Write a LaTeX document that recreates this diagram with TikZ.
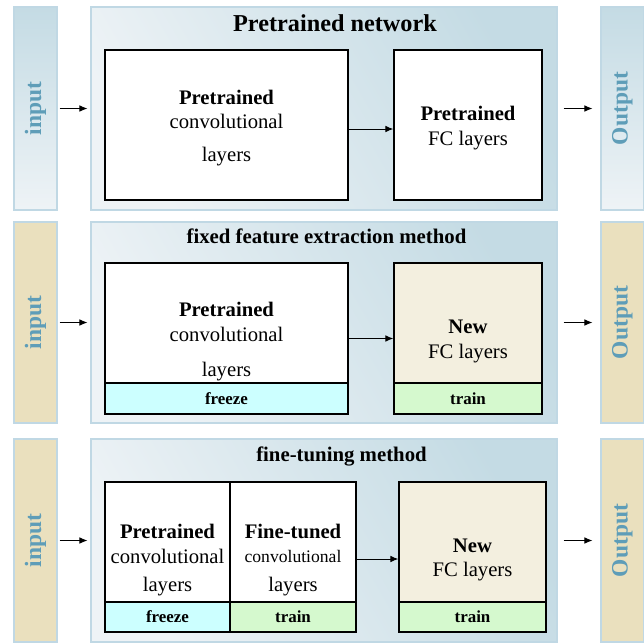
\documentclass[tikz,border=0pt]{standalone}
\usepackage{fontspec}
\setmainfont{Liberation Serif}
\usetikzlibrary{fit,arrows.meta}
\definecolor{edgeblue}{HTML}{C0D8E4}
\definecolor{paneldark}{HTML}{C4DBE4}
\definecolor{panellight}{HTML}{EEF3F6}
\definecolor{sandfill}{HTML}{EAE0BE}
\definecolor{newfill}{HTML}{F3EFDF}
\definecolor{freezefill}{HTML}{CCFFFF}
\definecolor{trainfill}{HTML}{D5F9CE}
\definecolor{sideblue}{HTML}{5E9DB8}
\newcommand{\bodyfont}{\fontsize{15.5}{18.6}\selectfont}
\newcommand{\stripfont}{\fontsize{12.7}{15}\selectfont\bfseries}
\begin{document}
\begin{tikzpicture}[x=0.75pt, y=-0.75pt,
    panel/.style={draw=edgeblue, line width=0.8pt, bottom color=panellight, top color=paneldark, shading angle=-60, inner sep=0pt},
    sidebox/.style={draw=edgeblue, line width=0.8pt, inner sep=0pt},
    bluebox/.style={sidebox, top color=paneldark, bottom color=panellight},
    sandbox/.style={sidebox, fill=sandfill},
    sidetext/.style={rotate=90, text=sideblue, font=\fontsize{17.6}{20}\selectfont\bfseries},
    layerbox/.style={draw, line width=1pt, inner sep=0pt},
    layertext/.style={align=center, font=\bodyfont, inner sep=0pt, yshift=-2.25pt},
    strip/.style={draw, line width=1pt, inner sep=0pt},
    striptext/.style={font=\stripfont, inner sep=0pt},
    title/.style={font=\fontsize{15.6}{18}\selectfont\bfseries},
    arr/.style={-{Latex[length=6pt,width=5pt]}, line width=0.75pt}]
    \useasboundingbox (0,0) rectangle (644,644);

    \node [bluebox, fit={(14,7) (57,210)}] (in1) {};
    \node [sidetext] (in1txt) at (in1) {input};
    \node [panel, fit={(91,7) (557,210)}] (net1) {};
    \node [bluebox, fit={(601,7) (643.5,210)}] (out1) {};
    \node [sidetext] (out1txt) at (out1) {Output};
    \node [title, font=\fontsize{18.2}{21}\selectfont\bfseries] (t1) at (335,23) {Pretrained network};
    \node [layerbox, fill=white, fit={(105,50) (348,200)}] (conv1) {};
    \node [layertext] (conv1txt) at (conv1) {\textbf{Pretrained}\\convolutional\\[6pt]layers};
    \node [layerbox, fill=white, fit={(394,50) (542,200)}] (fc1) {};
    \node [layertext] (fc1txt) at (fc1) {\textbf{Pretrained}\\FC layers};

    \node [sandbox, fit={(14,222) (57,423)}] (in2) {};
    \node [sidetext] (in2txt) at (in2) {input};
    \node [panel, fit={(91,222) (557,423)}] (net2) {};
    \node [sandbox, fit={(601,222) (643.5,423)}] (out2) {};
    \node [sidetext] (out2txt) at (out2) {Output};
    \node [title] (t2) at (326.5,236) {fixed feature extraction method};
    \node [layerbox, fill=white, fit={(105,263) (348,414)}] (conv2) {};
    \node [layertext] (conv2txt) at (conv2) {\textbf{Pretrained}\\convolutional\\[7.5pt]layers};
    \node [strip, fill=freezefill, fit={(105,383) (348,414)}] (fz2) {};
    \node [striptext] (fz2txt) at (fz2) {freeze};
    \node [layerbox, fill=newfill, fit={(394,263) (542,414)}] (fc2) {};
    \node [layertext] (fc2txt) at (fc2) {\textbf{New}\\FC layers};
    \node [strip, fill=trainfill, fit={(394,383) (542,414)}] (tr2) {};
    \node [striptext] (tr2txt) at (tr2) {train};

    \node [sandbox, fit={(14,439) (57,642)}] (in3) {};
    \node [sidetext] (in3txt) at (in3) {input};
    \node [panel, fit={(91,439) (557,642)}] (net3) {};
    \node [sandbox, fit={(601,439) (643.5,642)}] (out3) {};
    \node [sidetext] (out3txt) at (out3) {Output};
    \node [title] (t3) at (341.5,456) {fine-tuning method};
    \node [layerbox, fill=white, fit={(105,482) (230,632)}] (conv3) {};
    \node [layertext] (conv3txt) at (conv3) {\textbf{Pretrained}\\convolutional\\[2pt]layers};
    \node [layerbox, fill=white, fit={(230,482) (356,632)}] (tune3) {};
    \node [layertext] (tune3txt) at (tune3) {\textbf{Fine-tuned}\\{\fontsize{13.2}{16}\selectfont convolutional}\\[3pt]layers};
    \node [layerbox, fill=newfill, fit={(399,482) (546,632)}] (fc3) {};
    \node [layertext] (fc3txt) at (fc3) {\textbf{New}\\FC layers};
    \node [strip, fill=freezefill, fit={(105,602) (230,632)}] (fz3) {};
    \node [striptext] (fz3txt) at (fz3) {freeze};
    \node [strip, fill=trainfill, fit={(230,602) (356,632)}] (tr3a) {};
    \node [striptext] (tr3atxt) at (tr3a) {train};
    \node [strip, fill=trainfill, fit={(399,602) (546,632)}] (tr3b) {};
    \node [striptext] (tr3btxt) at (tr3b) {train};

    \draw [arr, shorten <=1.5pt, shorten >=2.25pt] (in1.east) -- (net1.west);
    \draw [arr] ([yshift=-3pt]conv1.east) -- ([yshift=-3pt]fc1.west);
    \draw [arr, shorten <=4.5pt, shorten >=6pt] (net1.east) -- (out1.west);
    \draw [arr, shorten <=1.5pt, shorten >=2.25pt] (in2.east) -- (net2.west);
    \draw [arr] (conv2.east) -- (fc2.west);
    \draw [arr, shorten <=4.5pt, shorten >=6pt] (net2.east) -- (out2.west);
    \draw [arr, shorten <=1.5pt, shorten >=2.25pt] (in3.east) -- (net3.west);
    \draw [arr] ([yshift=-1.5pt]tune3.east) -- ([yshift=-1.5pt]fc3.west);
    \draw [arr, shorten <=4.5pt, shorten >=6pt] (net3.east) -- (out3.west);
\end{tikzpicture}
\end{document}
